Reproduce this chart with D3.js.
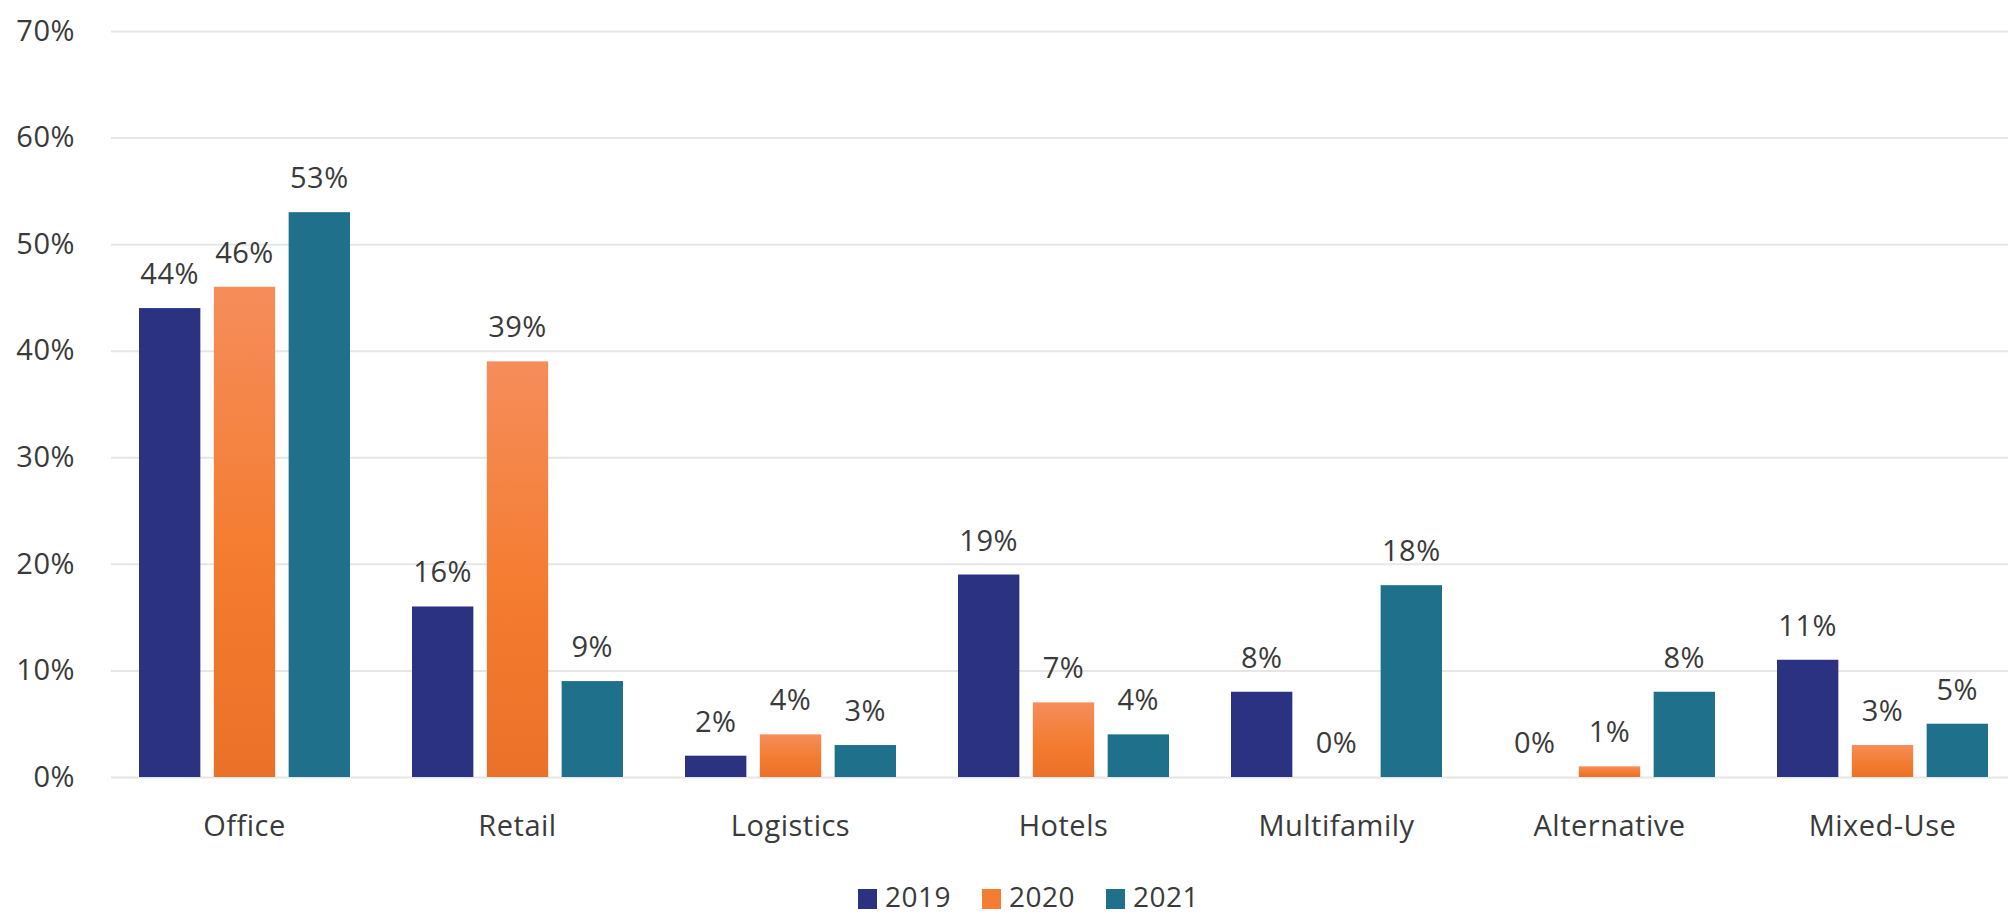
<!DOCTYPE html>
<html>
<head>
<meta charset="utf-8">
<script src="https://cdn.jsdelivr.net/npm/d3@7"></script>
<style>
	body { margin: 0; background: #fff; }
	svg { display: block; font-family: "Open Sans", "Noto Sans", sans-serif; }
</style>
</head>
<body>
<div id="chart"></div>
<script>
// chart data
var categories = ["Office", "Retail", "Logistics", "Hotels", "Multifamily", "Alternative", "Mixed-Use"]
var years = ["2019", "2020", "2021"]
var values2019 = [44, 16, 2, 19, 8, 0, 11]
var values2020 = [46, 39, 4, 7, 0, 1, 3]
var values2021 = [53, 9, 3, 4, 18, 8, 5]
var yTicks = [0, 10, 20, 30, 40, 50, 60, 70]

var seriesValues = {"2019": values2019, "2020": values2020, "2021": values2021}

// outer svg dimensions
const width = 2008;
const height = 916;

const textColor = "#3a3a3a";
const gridColor = "#e6e6e6";
const fontSize = 29;
const spacing = "0.5px";

// build rows for the grouped bars
var rows = categories.map(function(c, i){
	return {
		category: c,
		bars: years.map(function(y){ return {year: y, value: seriesValues[y][i]} })
	}
})

const yScale = d3.scaleLinear().domain([0, 70]).range([777, 31]);
const x0 = d3.scaleBand().domain(categories).range([108, 2019]).padding(0);
const groupWidth = 211;
const x1 = d3.scaleBand().domain(years).range([0, groupWidth]).paddingInner(0.18);
const color = d3.scaleOrdinal().domain(years).range(["#2c3282", "url(#orangeGrad)", "#1f718b"]);
const legendColor = d3.scaleOrdinal().domain(years).range(["#2c3282", "#f47d33", "#1f718b"]);

var svg = d3.select("#chart").append("svg")
	.attr("width", width)
	.attr("height", height)

// orange bars fade lighter towards the top
var grad = svg.append("defs").append("linearGradient")
	.attr("id", "orangeGrad")
	.attr("x1", 0).attr("y1", 0).attr("x2", 0).attr("y2", 1)
grad.append("stop").attr("offset", "0%").attr("stop-color", "#f58d5b")
grad.append("stop").attr("offset", "55%").attr("stop-color", "#f47c30")
grad.append("stop").attr("offset", "100%").attr("stop-color", "#ea7128")

// gridlines + y labels
var yAxis = d3.axisLeft(yScale)
	.tickValues(yTicks)
	.tickSize(-(width - 111))
	.tickPadding(36)
	.tickFormat(function(d){ return d + "%" })

var gy = svg.append("g")
	.attr("transform", "translate(111,0)")
	.call(yAxis)
gy.select(".domain").remove()
gy.selectAll(".tick line").attr("stroke", gridColor).attr("stroke-width", 2)
gy.selectAll(".tick text")
	.attr("fill", textColor)
	.style("font-size", fontSize + "px")
	.style("letter-spacing", spacing)
	.style("font-family", "'Open Sans', sans-serif")

// x labels
var xAxis = d3.axisBottom(x0).tickSize(0).tickPadding(38)
var gx = svg.append("g")
	.attr("transform", "translate(0,777)")
	.call(xAxis)
gx.select(".domain").remove()
gx.selectAll(".tick text")
	.attr("fill", textColor)
	.style("font-size", fontSize + "px")
	.style("letter-spacing", spacing)
	.style("font-family", "'Open Sans', sans-serif")

// bar groups
var groups = svg.append("g").selectAll("g")
	.data(rows)
	.enter()
	.append("g")
	.attr("transform", function(d){ return "translate(" + (x0(d.category) + (x0.bandwidth() - groupWidth) / 2) + ",0)" })

groups.selectAll("rect")
	.data(function(d){ return d.bars })
	.enter()
	.append("rect")
	.attr("x", function(d){ return x1(d.year) })
	.attr("width", x1.bandwidth())
	.attr("y", function(d){ return yScale(d.value) })
	.attr("height", function(d){ return yScale(0) - yScale(d.value) })
	.attr("fill", function(d){ return color(d.year) })

groups.selectAll("text")
	.data(function(d){ return d.bars })
	.enter()
	.append("text")
	.attr("x", function(d){ return x1(d.year) + x1.bandwidth() / 2 })
	.attr("y", function(d){ return yScale(d.value) - 24 })
	.attr("text-anchor", "middle")
	.attr("fill", textColor)
	.style("font-size", fontSize + "px")
	.style("letter-spacing", spacing)
	.text(function(d){ return d.value + "%" })

// legend
var legend = svg.append("g").attr("transform", "translate(858,889)")
var item = legend.selectAll("g")
	.data(years)
	.enter()
	.append("g")
	.attr("transform", function(d, i){ return "translate(" + (i * 124) + ",0)" })
item.append("rect")
	.attr("width", 19)
	.attr("height", 20)
	.attr("fill", function(d){ return legendColor(d) })
item.append("text")
	.attr("x", 27)
	.attr("y", 18)
	.attr("fill", textColor)
	.style("font-size", "28px")
	.style("letter-spacing", spacing)
	.text(function(d){ return d })
</script>
</body>
</html>
